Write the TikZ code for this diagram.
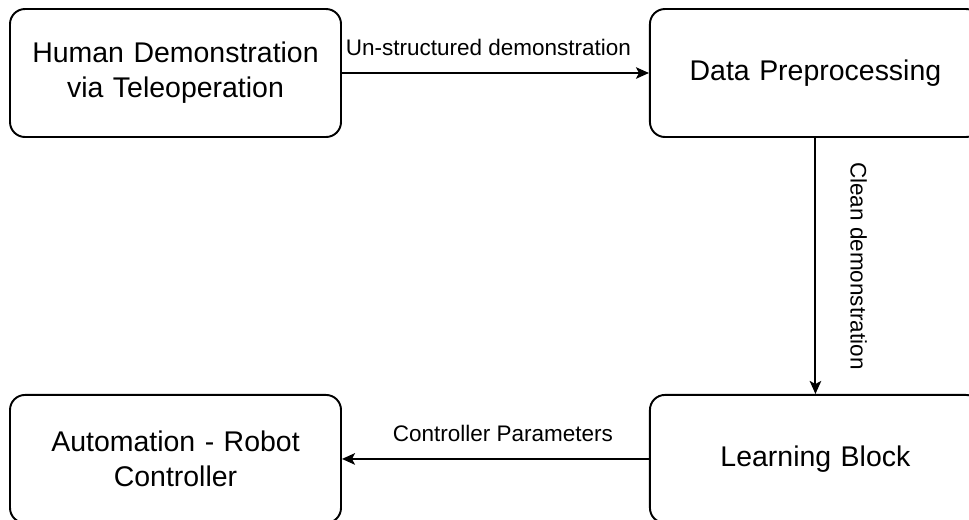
\documentclass[tikz,border=0pt]{standalone}
\usepackage{fontspec}
\setmainfont{Liberation Sans}
\usepackage{tikz}
\usetikzlibrary{arrows.meta, positioning}

\begin{document}
\begin{tikzpicture}[node distance=6.14cm, auto,
    stagebox/.style={rectangle, rounded corners=0.3cm, draw, line width=1.1pt, minimum height=2.56cm, minimum width=6.62cm, text centered, text width=6.2cm, font=\fontsize{16.2}{19.9}\selectfont},
    dataflow/.style={-{Stealth[length=2.6mm, width=2.3mm, inset=0.6mm]}, line width=1.1pt},
    flowlabel/.style={inner sep=0pt, font=\fontsize{12.8}{15}\selectfont}]
    \useasboundingbox (0,0) rectangle (19.38,-10.38);
    \node[stagebox] (demo) at (3.51,-1.46) {Human Demonstration \\ via Teleoperation};
    \node[stagebox, right=of demo] (prep) {Data Preprocessing};
    \node[stagebox, below=5.12cm of prep] (learn) {Learning Block};
    \node[stagebox, left=of learn] (robot) {Automation - Robot \\ Controller};
    \draw[dataflow] (demo.east) -- (prep.west) node[flowlabel, midway, above, xshift=-0.14cm, yshift=0.32cm] {Un-structured demonstration};
    \draw[dataflow] (prep.south) -- (learn.north) node[flowlabel, midway, xshift=0.68cm, rotate=-90, anchor=south] {Clean demonstration};
    \draw[dataflow] (learn.west) -- (robot.east) node[flowlabel, midway, above, xshift=0.15cm, yshift=0.32cm] {Controller Parameters};
\end{tikzpicture}
\end{document}
